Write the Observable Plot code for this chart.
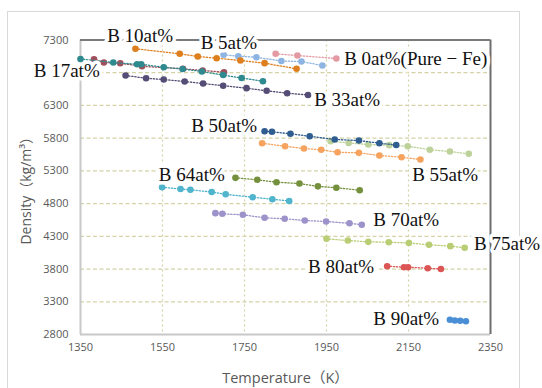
<!DOCTYPE html>
<html>
<head>
<meta charset="utf-8">
<script src="https://cdn.jsdelivr.net/npm/d3@7"></script>
<script src="https://cdn.jsdelivr.net/npm/@observablehq/plot@0.6"></script>
<style>
  html, body { margin: 0; padding: 0; background: #fff; }
  #wrap { position: relative; width: 542px; height: 388px; overflow: hidden; }
  #border { position: absolute; left: 7px; top: 11px; width: 513px; height: 390px; border: 1px solid #d9d9d9; box-sizing: border-box; }
  #chart { position: absolute; left: 0; top: 0; }
</style>
</head>
<body>
<div id="wrap"><div id="border"></div><div id="chart"></div></div>
<script>
// Tick values (6800 has a gridline, but its label is hidden behind "B 17at%" in the original)
const xTicks = [1350, 1550, 1750, 1950, 2150, 2350];
const yGrid = [2800, 3300, 3800, 4300, 4800, 5300, 5800, 6300, 6800, 7300];
const yTickLabels = [2800, 3300, 3800, 4300, 4800, 5300, 5800, 6300, 7300];

// Series: temperature (K) and density (kg/m^3)
const b0T = [1826, 1879, 1974];
const b0D = [7089, 7063, 7017];
const b5T = [1699, 1735, 1779, 1840, 1889, 1940];
const b5D = [7074, 7052, 7037, 6979, 6971, 6910];
const b10T = [1484, 1592, 1636, 1682, 1740, 1799, 1877];
const b10D = [7166, 7089, 7048, 7022, 6987, 6946, 6860];
const b17T = [1350, 1430, 1488, 1498, 1553, 1599, 1646, 1698, 1743, 1795];
const b17D = [7010, 6956, 6929, 6929, 6884, 6857, 6819, 6765, 6719, 6670];
const bMaroonT = [1383, 1407, 1447, 1500, 1600, 1648, 1700];
const bMaroonD = [7007, 6956, 6944, 6898, 6860, 6834, 6808];
const b33T = [1460, 1510, 1553, 1604, 1649, 1698, 1755, 1804, 1854, 1905];
const b33D = [6758, 6716, 6696, 6666, 6635, 6602, 6564, 6524, 6487, 6460];
const b50T = [1799, 1817, 1862, 1909, 1970, 2029, 2079, 2120];
const b50D = [5906, 5897, 5867, 5829, 5780, 5764, 5723, 5696];
const bGreenT = [1960, 2004, 2052, 2103, 2148, 2202, 2251, 2297];
const bGreenD = [5754, 5726, 5703, 5693, 5676, 5624, 5596, 5561];
const b55T = [1793, 1849, 1895, 1937, 1977, 2029, 2079, 2133, 2179];
const b55D = [5723, 5676, 5642, 5622, 5585, 5576, 5535, 5509, 5474];
const b64T = [1728, 1781, 1828, 1884, 1929, 1974, 2031];
const b64D = [5194, 5164, 5127, 5107, 5064, 5042, 5005];
const bCyanT = [1549, 1594, 1618, 1670, 1704, 1770, 1818, 1859];
const bCyanD = [5051, 5023, 5011, 4977, 4942, 4898, 4867, 4840];
const b70T = [1679, 1696, 1746, 1799, 1848, 1897, 1949, 2006, 2036];
const b70D = [4654, 4644, 4629, 4583, 4568, 4542, 4527, 4499, 4478];
const b75T = [1950, 2002, 2052, 2102, 2151, 2200, 2252, 2287];
const b75D = [4262, 4236, 4216, 4210, 4198, 4171, 4150, 4125];
const b80T = [2098, 2139, 2149, 2197, 2229];
const b80D = [3844, 3828, 3828, 3813, 3801];
const b90T = [2251, 2263, 2276, 2290];
const b90D = [3025, 3014, 3009, 3003];

// Annotation labels
const labelText = ["B 10at%", "B 5at%", "B 17at%", "B 0at%(Pure \u2212 Fe)", "B 33at%", "B 50at%", "B 55at%", "B 64at%", "B 70at%", "B 75at%", "B 80at%", "B 90at%"];
const labelT = [1415, 1643, 1236, 1993, 1920, 1620, 2159, 1541, 2064, 2310, 1905, 2064];
const labelD = [7369, 7251, 6834, 7013, 6386, 5994, 5245, 5245, 4557, 4186, 3839, 3040];

const series = [
  {T: b0T, D: b0D, color: "#e39aa2"},
  {T: b5T, D: b5D, color: "#8db4e2"},
  {T: b10T, D: b10D, color: "#de7f1f"},
  {T: bMaroonT, D: bMaroonD, color: "#a0505c"},
  {T: b17T, D: b17D, color: "#2e8a8f"},
  {T: b33T, D: b33D, color: "#554d75"},
  {T: b55T, D: b55D, color: "#f5a35e"},
  {T: bGreenT, D: bGreenD, color: "#bdd29b"},
  {T: b50T, D: b50D, color: "#2f5d8f"},
  {T: b64T, D: b64D, color: "#74903c"},
  {T: bCyanT, D: bCyanD, color: "#4fb4cc"},
  {T: b70T, D: b70D, color: "#9d92c9"},
  {T: b75T, D: b75D, color: "#b9cd74"},
  {T: b80T, D: b80D, color: "#dc5656"},
  {T: b90T, D: b90D, color: "#4a8fd6"}
];

const labels = labelText.map((t, i) => ({text: t, T: labelT[i], D: labelD[i]}));
const innerGridX = xTicks.slice(1, -1);
const innerGridY = yGrid.slice(1, -1);

const marks = [
  Plot.ruleX(innerGridX, {stroke: "#d4d2a6", strokeWidth: 1.2, strokeDasharray: "2,3"}),
  Plot.ruleY(innerGridY, {stroke: "#d4d2a6", strokeWidth: 1.2, strokeDasharray: "4,2.5"}),
  Plot.ruleX([xTicks[0]], {stroke: "#c8c8c8", strokeWidth: 2}),
  Plot.ruleY([yGrid[0]], {stroke: "#c8c8c8", strokeWidth: 2}),
  Plot.ruleX([xTicks[xTicks.length - 1]], {stroke: "#6e6e6e", strokeWidth: 2}),
  Plot.ruleY([yGrid[yGrid.length - 1]], {stroke: "#7a7a7a", strokeWidth: 2})
];
for (const s of series) {
  const rows = s.T.map((t, i) => ({T: t, D: s.D[i]}));
  marks.push(Plot.line(rows, {x: "T", y: "D", stroke: s.color, strokeWidth: 1.3, strokeDasharray: "1.3,1.8"}));
  marks.push(Plot.dot(rows, {x: "T", y: "D", r: 3.3, fill: s.color}));
}
marks.push(Plot.text(labels, {
  x: "T", y: "D", text: "text", textAnchor: "start", lineAnchor: "middle",
  fontFamily: "'Liberation Serif', 'DejaVu Serif', serif", fontSize: 19,
  fill: "#111", stroke: "white", strokeWidth: 7, paintOrder: "stroke"
}));
marks.push(Plot.text(["Temperature\uFF08K\uFF09"], {
  frameAnchor: "bottom", dy: 44, text: d => d, fontSize: 14.5, fill: "#595959",
  fontFamily: "'Open Sans', 'Noto Sans CJK JP', sans-serif", lineAnchor: "middle", textAnchor: "middle"
}));
marks.push(Plot.text(["Density\uFF08kg/m\u00B3\uFF09"], {
  frameAnchor: "left", dx: -54, rotate: -90, text: d => d, fontSize: 14, fill: "#595959",
  fontFamily: "'Open Sans', 'Noto Sans CJK JP', sans-serif", lineAnchor: "middle", textAnchor: "middle"
}));

const chart = Plot.plot({
  width: 542, height: 388,
  marginLeft: 80, marginRight: 52, marginTop: 39.5, marginBottom: 54,
  style: {fontFamily: "'Open Sans', sans-serif", fontSize: "11px", color: "#595959", background: "transparent", overflow: "visible"},
  x: {domain: [1350, 2350], ticks: xTicks, tickSize: 0, tickPadding: 9, tickFormat: "d", label: null},
  y: {domain: [2800, 7300], ticks: yTickLabels, tickSize: 0, tickPadding: 12, tickFormat: "d", label: null},
  marks
});
document.getElementById("chart").appendChild(chart);
</script>
</body>
</html>
